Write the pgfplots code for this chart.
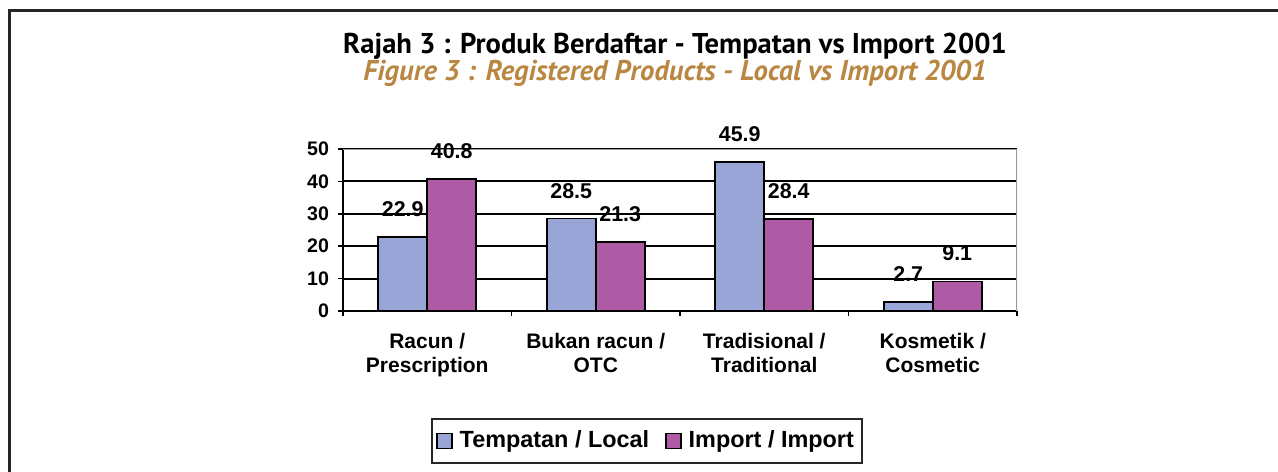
\documentclass[border=0pt]{standalone}
\usepackage{pgfplots}
\pgfplotsset{compat=1.18}
\usepackage{fontspec}
\setmainfont{Liberation Sans}
\newfontfamily\titlefont{PT Sans}
\definecolor{localblue}{RGB}{152,165,214}
\definecolor{importpurple}{RGB}{174,90,165}
\definecolor{titlegold}{RGB}{185,135,65}
\definecolor{bordergray}{RGB}{150,158,165}

\begin{document}
\begin{tikzpicture}
% 1px = 0.5pt, origin at top left of the picture
\useasboundingbox (0,0) rectangle (639pt,-235.5pt);
\draw[black!85, line width=1.5pt] (4.5pt,-240pt) -- (4.5pt,-5pt) -- (645pt,-5pt);
\node[font=\titlefont\bfseries\fontsize{14.3}{16}\selectfont] at (337.5pt,-23pt)
  {Rajah 3 : Produk Berdaftar - Tempatan vs Import 2001};
\node[font=\titlefont\bfseries\itshape\fontsize{14.3}{16}\selectfont, text=titlegold] at (337.5pt,-36.5pt)
  {Figure 3 : Registered Products - Local vs Import 2001};

\begin{axis}[
  at={(171.5pt,-155.5pt)}, anchor=south west,
  scale only axis, width=337pt, height=81pt,
  ybar=0pt, bar width=24.5pt,
  ymin=0, ymax=50, xmin=-0.5, xmax=3.5,
  axis x line*=bottom, axis y line*=left,
  axis line style={line width=1pt, -},
  xtick={0,1,2,3},
  xticklabels={Racun /\\Prescription, Bukan racun /\\OTC, Tradisional /\\Traditional, Kosmetik /\\Cosmetic},
  major x tick style={draw=none},
  minor xtick={-0.5,0.5,1.5,2.5,3.5},
  ytick={0,10,20,30,40,50},
  tick align=outside,
  tick style={black, line width=0.8pt},
  major tick length=2.5pt, minor tick length=2.5pt,
  ymajorgrids, grid style={black, line width=1pt},
  /pgf/number format/assume math mode=true,
  yticklabel style={font=\bfseries\fontsize{9.8}{11}\selectfont, xshift=-1pt},
  xticklabel style={align=center, font=\bfseries\fontsize{10.5}{12}\selectfont, yshift=-5pt},
  nodes near coords,
  nodes near coords style={font=\bfseries\fontsize{10.7}{12}\selectfont, anchor=center, yshift=14pt},
  legend columns=2,
  legend style={at={(0.451,-0.802)}, anchor=center, draw=black!85, line width=1pt,
    font=\bfseries\fontsize{11.7}{14}\selectfont, inner xsep=2pt, inner ysep=4pt,
    /tikz/every odd column/.append style={column sep=1.5pt},
    /tikz/every even column/.append style={column sep=6pt}},
  legend image code/.code={\draw[#1, draw=black, line width=0.8pt] (0pt,-3.75pt) rectangle (7.5pt,3.75pt);},
]
\draw[bordergray, line width=1pt] (rel axis cs:0,1) -- (rel axis cs:1,1) -- (rel axis cs:1,0);
\addplot[fill=localblue, draw=black, line width=0.8pt] coordinates {(0,22.9) (1,28.5) (2,45.9) (3,2.7)};
\addlegendentry{Tempatan / Local}
\addplot[fill=importpurple, draw=black, line width=0.8pt] coordinates {(0,40.8) (1,21.3) (2,28.4) (3,9.1)};
\addlegendentry{Import / Import}
\end{axis}
\end{tikzpicture}
\end{document}
